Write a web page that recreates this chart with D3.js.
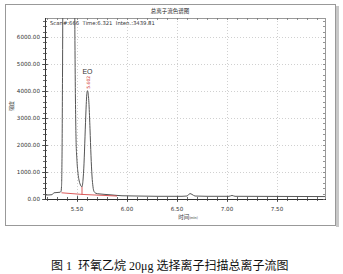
<!DOCTYPE html>
<html>
<head>
<meta charset="utf-8">
<script src="https://cdn.jsdelivr.net/npm/d3@7"></script>
<style>
  body { margin: 0; background: #fff; }
  svg { display: block; }
</style>
</head>
<body>
<div id="chart"></div>
<script>
// chromatogram values (time in min, intensity)
var times = [5.18, 5.22, 5.25, 5.27, 5.30, 5.33, 5.34, 5.345, 5.35, 5.355, 5.36, 5.38, 5.42, 5.46, 5.475, 5.48, 5.485, 5.49, 5.50, 5.51, 5.52, 5.53, 5.54,
             5.55, 5.56, 5.57, 5.58, 5.59, 5.60, 5.605, 5.61, 5.62, 5.63, 5.64, 5.65, 5.66, 5.67, 5.69,
             5.72, 5.78, 5.85, 5.95, 6.10, 6.30, 6.55, 6.60, 6.63, 6.65, 6.68, 6.80, 7.02, 7.05, 7.08, 7.98];
var intensities = [150, 150, 160, 230, 240, 250, 280, 450, 1500, 4500, 9000, 20000, 25000, 20000, 9000, 5500, 3500, 2300, 1400, 950, 700, 560, 480,
                   450, 700, 1300, 2300, 3300, 3950, 4010, 3950, 3500, 2600, 1600, 850, 450, 280, 210,
                   190, 170, 150, 120, 110, 100, 100, 110, 200, 170, 110, 100, 100, 130, 100, 90];

// integration baseline (red)
var baseTimes = [5.345, 5.55, 5.90];
var baseValues = [230, 170, 110];
var dropTime = 5.55;
var dropValue = 450;

var xTicks = [5.50, 6.00, 6.50, 7.00, 7.50];
var yTicks = [0, 1000, 2000, 3000, 4000, 5000, 6000];
var peakLabel = "5.602";
var peakTime = 5.605;
var peakValue = 4010;

function drawChart() {
    var W = 343, H = 274;
    var pLeft = 45, pRight = 325, pTop = 18, pBottom = 199;

    var svg = d3.select("#chart").append("svg")
        .attr("width", W)
        .attr("height", H);

    // outer window frame with shadow
    svg.append("rect").attr("x", 336).attr("y", 6).attr("width", 3).attr("height", 221).attr("fill", "#c8c8c8");
    svg.append("rect").attr("x", 5.5).attr("y", 4.5).attr("width", 330).attr("height", 221)
        .attr("fill", "#fff").attr("stroke", "#999").attr("stroke-width", 1);

    var x = d3.scaleLinear().domain([5.18, 7.98]).range([pLeft, pRight]);
    var y = d3.scaleLinear().domain([0, 6700]).range([pBottom, pTop]);

    // title
    svg.append("text")
        .attr("x", 170).attr("y", 13)
        .attr("text-anchor", "middle")
        .attr("font-family", "Noto Sans CJK SC")
        .attr("font-size", "5.5px")
        .attr("fill", "#222")
        .text("总离子流色谱图");

    // grid
    var grid = svg.append("g").attr("stroke", "#bbb").attr("stroke-dasharray", "1,2").attr("stroke-width", 0.7);
    yTicks.slice(1).forEach(function (v) {
        grid.append("line").attr("x1", pLeft).attr("x2", pRight).attr("y1", Math.round(y(v)) + 0.5).attr("y2", Math.round(y(v)) + 0.5);
    });
    xTicks.forEach(function (t) {
        grid.append("line").attr("x1", Math.round(x(t)) + 0.5).attr("x2", Math.round(x(t)) + 0.5).attr("y1", pTop).attr("y2", pBottom);
    });

    // plot frame
    svg.append("rect").attr("x", pLeft + 0.5).attr("y", pTop + 0.5).attr("width", pRight - pLeft).attr("height", pBottom - pTop)
        .attr("fill", "none").attr("stroke", "#999");
    svg.append("path").attr("d", "M" + (pLeft + 0.5) + "," + pTop + "V" + (pBottom + 0.5) + "H" + (pRight + 1))
        .attr("fill", "none").attr("stroke", "#333");

    var minorX = d3.range(52, 80).map(function (d) { return d / 10; });
    var minorY = d3.range(0, 6800, 200);

    var ticks = svg.append("g").attr("stroke", "#444").attr("stroke-width", 0.8);
    minorX.forEach(function (t) {
        var px = Math.round(x(t)) + 0.5;
        ticks.append("line").attr("x1", px).attr("x2", px).attr("y1", pBottom - 2).attr("y2", pBottom + 2);
        ticks.append("line").attr("x1", px).attr("x2", px).attr("y1", pTop).attr("y2", pTop + 2).attr("stroke", "#777");
    });
    xTicks.forEach(function (t) {
        var px = Math.round(x(t)) + 0.5;
        ticks.append("line").attr("x1", px).attr("x2", px).attr("y1", pBottom - 3).attr("y2", pBottom + 3);
    });
    minorY.forEach(function (v) {
        var py = Math.round(y(v)) + 0.5;
        ticks.append("line").attr("x1", pLeft - 2).attr("x2", pLeft + 2).attr("y1", py).attr("y2", py);
        ticks.append("line").attr("x1", pRight - 2).attr("x2", pRight).attr("y1", py).attr("y2", py).attr("stroke", "#777");
    });
    yTicks.forEach(function (v) {
        var py = Math.round(y(v)) + 0.5;
        ticks.append("line").attr("x1", pLeft - 3).attr("x2", pLeft + 3).attr("y1", py).attr("y2", py);
    });

    // tick labels
    svg.append("g").selectAll("text").data(yTicks).enter().append("text")
        .attr("x", 40).attr("y", function (d) { return y(d) + 2; })
        .attr("text-anchor", "end")
        .attr("font-family", "DejaVu Sans")
        .attr("font-size", "5.6px")
        .attr("fill", "#333")
        .text(function (d) { return d.toFixed(2); });

    svg.append("g").selectAll("text").data(xTicks).enter().append("text")
        .attr("x", function (d) { return x(d); }).attr("y", 211)
        .attr("text-anchor", "middle")
        .attr("font-family", "DejaVu Sans")
        .attr("font-size", "5.6px")
        .attr("fill", "#333")
        .text(function (d) { return d.toFixed(2); });

    // axis titles
    var xt = svg.append("text").attr("x", 188).attr("y", 219).attr("text-anchor", "middle")
        .attr("font-family", "Noto Sans CJK SC").attr("font-size", "5.5px").attr("fill", "#333");
    xt.append("tspan").text("时间");
    xt.append("tspan").attr("font-size", "3.5px").text("(min)");

    svg.append("text")
        .attr("transform", "translate(13,106) rotate(-90)")
        .attr("text-anchor", "middle")
        .attr("font-family", "Noto Sans CJK SC").attr("font-size", "5px").attr("fill", "#333")
        .text("强度");

    // cursor info
    svg.append("text")
        .attr("x", 50).attr("y", 25)
        .attr("font-family", "DejaVu Sans")
        .attr("font-size", "5.3px")
        .attr("fill", "#333")
        .attr("xml:space", "preserve")
        .text("Scan#:666  Time:6.321  Inten.:3439.81");

    // chromatogram
    svg.append("clipPath").attr("id", "plot-clip").append("rect")
        .attr("x", pLeft).attr("y", pTop).attr("width", pRight - pLeft).attr("height", pBottom - pTop);

    var points = times.map(function (t, i) { return [t, intensities[i]]; });
    var line = d3.line()
        .x(function (d) { return x(d[0]); })
        .y(function (d) { return y(d[1]); })
        .curve(d3.curveMonotoneX);

    svg.append("path")
        .datum(points)
        .attr("clip-path", "url(#plot-clip)")
        .attr("fill", "none")
        .attr("stroke", "#555")
        .attr("stroke-width", 1)
        .attr("d", line);

    // integration baseline
    var basePoints = baseTimes.map(function (t, i) { return [t, baseValues[i]]; });
    svg.append("path")
        .datum(basePoints)
        .attr("fill", "none")
        .attr("stroke", "#d03030")
        .attr("stroke-width", 0.8)
        .attr("d", d3.line().x(function (d) { return x(d[0]); }).y(function (d) { return y(d[1]); }));
    svg.append("line")
        .attr("x1", x(dropTime)).attr("x2", x(dropTime))
        .attr("y1", y(baseValues[1])).attr("y2", y(dropValue))
        .attr("stroke", "#d03030").attr("stroke-width", 0.8);

    // peak labels
    svg.append("text")
        .attr("transform", "translate(" + (x(peakTime) + 2) + "," + (y(peakValue) - 2) + ") rotate(-90)")
        .attr("font-family", "DejaVu Sans").attr("font-size", "4.5px").attr("fill", "#d03030")
        .text(peakLabel);
    svg.append("text")
        .attr("x", x(peakTime)).attr("y", 74)
        .attr("text-anchor", "middle")
        .attr("font-family", "Liberation Sans").attr("font-size", "7px").attr("fill", "#333")
        .text("EO");

    // figure caption
    svg.append("text")
        .attr("x", 51).attr("y", 270)
        .attr("font-family", "Liberation Serif, Noto Sans CJK SC")
        .attr("font-size", "12px")
        .attr("fill", "#111")
        .text("图\u00a01\u00a0\u00a0环氧乙烷\u00a020μg\u00a0选择离子扫描总离子流图");
}

drawChart();
</script>
</body>
</html>
